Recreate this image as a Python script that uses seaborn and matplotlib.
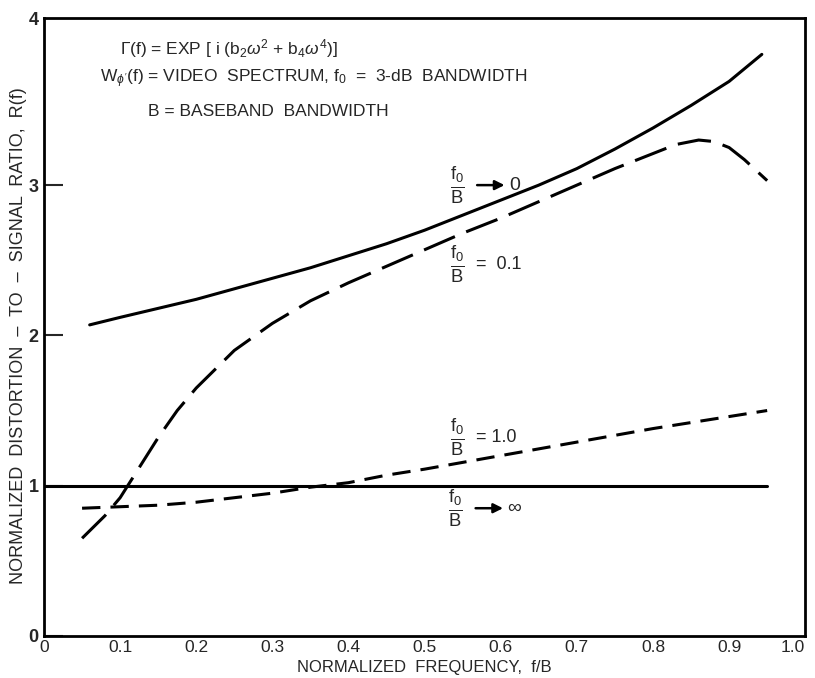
import matplotlib
matplotlib.use("Agg")
import matplotlib.pyplot as plt
import seaborn as sns
import pandas as pd

# ---- data ----
f_zero = [0.06, 0.1, 0.15, 0.2, 0.25, 0.3, 0.35, 0.4, 0.45, 0.5, 0.55, 0.6,
          0.65, 0.7, 0.75, 0.8, 0.85, 0.9, 0.943]
r_zero = [2.07, 2.12, 2.18, 2.24, 2.31, 2.38, 2.45, 2.53, 2.61, 2.70, 2.80, 2.90,
          3.00, 3.11, 3.24, 3.38, 3.53, 3.69, 3.87]

f_01 = [0.05, 0.08, 0.1, 0.125, 0.15, 0.175, 0.2, 0.25, 0.3, 0.35, 0.4, 0.45,
        0.5, 0.55, 0.6, 0.65, 0.7, 0.75, 0.8, 0.83, 0.86, 0.88, 0.9, 0.92, 0.95]
r_01 = [0.65, 0.80, 0.92, 1.12, 1.32, 1.50, 1.65, 1.90, 2.08, 2.23, 2.35, 2.46,
        2.57, 2.68, 2.78, 2.89, 3.00, 3.11, 3.21, 3.27, 3.30, 3.29, 3.25, 3.17, 3.03]

f_10 = [0.05, 0.1, 0.15, 0.2, 0.25, 0.3, 0.35, 0.4, 0.45, 0.5, 0.6, 0.7, 0.8, 0.9, 0.95]
r_10 = [0.85, 0.86, 0.87, 0.89, 0.92, 0.95, 0.99, 1.02, 1.07, 1.11, 1.20, 1.29, 1.38, 1.46, 1.50]

f_inf = [0.0, 0.95]
r_inf = [1.0, 1.0]

x_ticks = [0, 0.1, 0.2, 0.3, 0.4, 0.5, 0.6, 0.7, 0.8, 0.9, 1.0]
x_tick_labels = ["0", "0.1", "0.2", "0.3", "0.4", "0.5", "0.6", "0.7", "0.8", "0.9", "1.0"]
y_ticks = [0, 1, 2, 3]
y_tick_labels = ["0", "1", "2", "3"]

sns.set_style("white")
plt.rcParams["font.family"] = ["Liberation Sans", "DejaVu Sans"]
plt.rcParams["mathtext.fontset"] = "custom"
plt.rcParams["mathtext.rm"] = "Liberation Sans"
plt.rcParams["mathtext.it"] = "Liberation Sans:italic"
plt.rcParams["mathtext.sf"] = "Liberation Sans"

fig = plt.figure(figsize=(8.15, 6.78), dpi=100)
ax = fig.add_axes([0.054, 0.062, 0.934, 0.911])

lw = 2.2
df0 = pd.DataFrame({"f": f_zero, "r": r_zero})
df1 = pd.DataFrame({"f": f_01, "r": r_01})
df2 = pd.DataFrame({"f": f_10, "r": r_10})
df3 = pd.DataFrame({"f": f_inf, "r": r_inf})

sns.lineplot(data=df0, x="f", y="r", ax=ax, color="black", lw=lw, sort=False)
l1 = sns.lineplot(data=df1, x="f", y="r", ax=ax, color="black", lw=lw, sort=False).lines[-1]
l1.set_dashes((11, 4))
l2 = sns.lineplot(data=df2, x="f", y="r", ax=ax, color="black", lw=lw, sort=False).lines[-1]
l2.set_dashes((6, 3.3))
sns.lineplot(data=df3, x="f", y="r", ax=ax, color="black", lw=lw, sort=False)

ax.set_xlim(0, 1.0)
ax.set_ylim(0, 4.11)
ax.set_xticks(x_ticks)
xt = ax.set_xticklabels(x_tick_labels, fontsize=12.5)
xt[-1].set_horizontalalignment("right")
ax.set_yticks(y_ticks + [4.11])
ax.set_yticklabels(y_tick_labels + ["4"], fontsize=13, fontweight="bold")
ax.tick_params(axis="x", direction="in", length=12, width=1.5, pad=3,
               top=False, right=False)
ax.tick_params(axis="y", direction="in", length=14, width=1.5, pad=4,
               left=True, right=False)
ax.yaxis.get_major_ticks()[-1].tick1line.set_visible(False)
for s in ax.spines.values():
    s.set_linewidth(2)
    s.set_color("black")

ax.set_xlabel("NORMALIZED  FREQUENCY,  f/B", fontsize=12)
ax.xaxis.label.set_va("center")
ax.xaxis.set_label_coords(0.5, -0.051)
ax.set_ylabel("NORMALIZED  DISTORTION  –  TO  –  SIGNAL  RATIO,  R(f)", fontsize=13)
ax.yaxis.label.set_va("center")
ax.yaxis.set_label_coords(-0.034, 0.487)

# header annotations
hfs = 12.5
ax.text(0.1, 3.91, r"$\Gamma$(f) = EXP [ i (b$_2\omega^2$ + b$_4\omega^4$)]", fontsize=hfs, va="center")
ax.text(0.074, 3.71, r"W$_{\phi'}$(f) = VIDEO  SPECTRUM, f$_0$  =  3-dB  BANDWIDTH", fontsize=hfs, va="center")
ax.text(0.136, 3.49, "B = BASEBAND  BANDWIDTH", fontsize=hfs, va="center")

frac = r"$\frac{\mathrm{f_0}}{\mathrm{B}}$"
fs = 19

def label(fx, ry, rest, arrow):
    ax.text(fx, ry, frac, fontsize=fs, ha="center", va="center")
    if arrow:
        ax.annotate("", xy=(fx + 0.062, ry), xytext=(fx + 0.026, ry),
                    arrowprops=dict(arrowstyle="-|>", color="black", lw=1.8,
                                    mutation_scale=14, shrinkA=0, shrinkB=0))
        ax.text(fx + 0.068, ry, rest, fontsize=14, va="center")
    else:
        ax.text(fx + 0.024, ry, rest, fontsize=13, va="center")

label(0.543, 3.00, "0", True)
label(0.543, 2.47, "=  0.1", False)
label(0.543, 1.32, "= 1.0", False)
label(0.541, 0.85, "∞", True)

fig.savefig("out.png", dpi=100, facecolor="white")
